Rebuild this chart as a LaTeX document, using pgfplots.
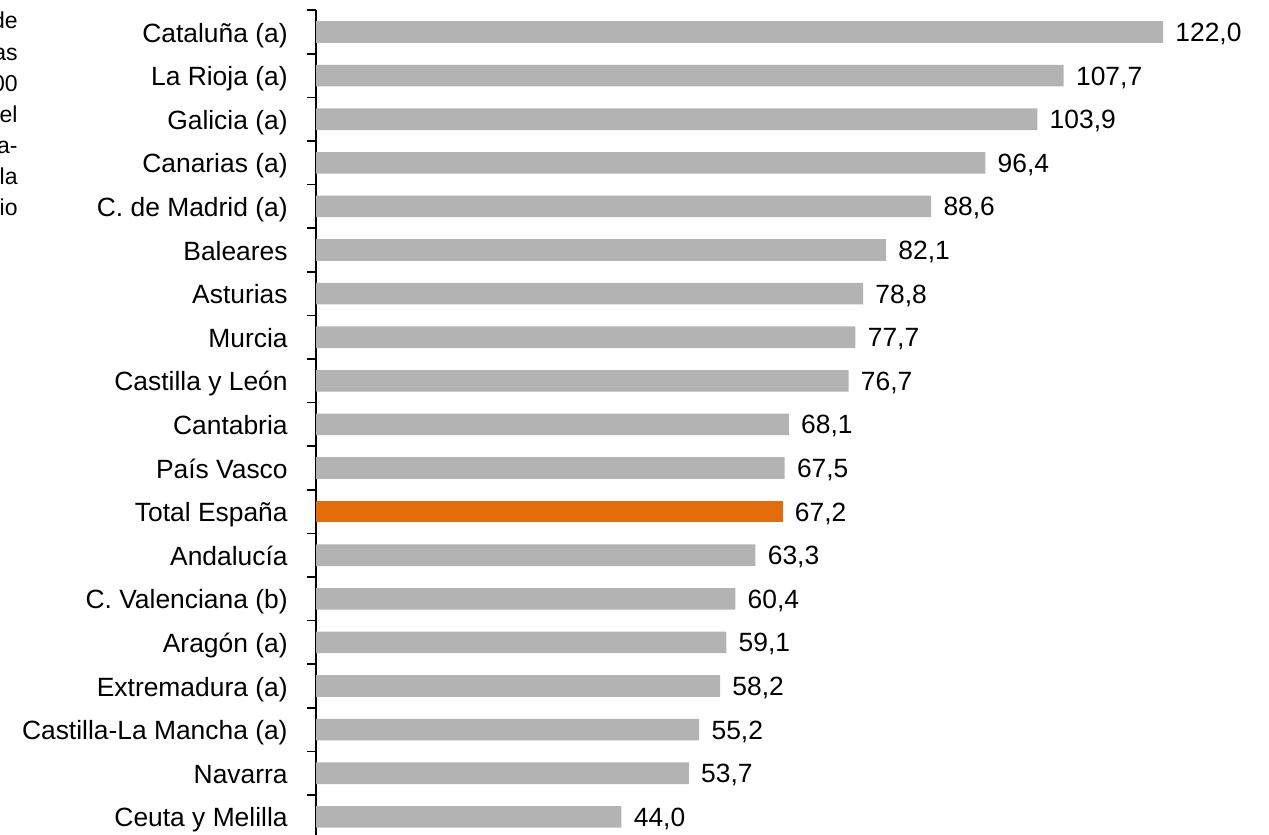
\documentclass[border=0pt]{standalone}
\usepackage{pgfplots}
\pgfplotsset{compat=1.18}
\usepackage{fontspec}
\setmainfont{Liberation Sans}
\definecolor{bargrey}{RGB}{179,179,179}
\definecolor{barorange}{RGB}{228,108,10}
\begin{document}
\begin{tikzpicture}[x=1pt,y=1pt]
\useasboundingbox (0,0) rectangle (634.5,417.5);
\clip (0,0) rectangle (634.5,417.5);
\begin{scope}[font=\fontsize{11.5}{13}\selectfont]
\node[anchor=base east,inner sep=0pt] at (9,403.0) {de};
\node[anchor=base east,inner sep=0pt] at (9,387.45) {as};
\node[anchor=base east,inner sep=0pt] at (9,371.9) {00};
\node[anchor=base east,inner sep=0pt] at (9,356.35) {el};
\node[anchor=base east,inner sep=0pt] at (9,340.8) {a-};
\node[anchor=base east,inner sep=0pt] at (9,325.25) {la};
\node[anchor=base east,inner sep=0pt] at (9,309.7) {io};
\end{scope}
\begin{axis}[
  at={(158pt,412.4pt)}, anchor=north west,
  scale only axis, width=451.27pt, height=414.2pt,
  xmin=0, xmax=130, ymin=-0.5, ymax=18.5, y dir=reverse,
  axis x line=none, axis y line*=left,
  axis line style={black, line width=0.75pt},
  every tick/.style={black, line width=0.75pt},
  ytick={0,...,18},
  yticklabels={Cataluña (a),La Rioja (a),Galicia (a),Canarias (a),C. de Madrid (a),Baleares,Asturias,Murcia,Castilla y León,Cantabria,País Vasco,Total España,Andalucía,C. Valenciana (b),Aragón (a),Extremadura (a),Castilla-La Mancha (a),Navarra,Ceuta y Melilla},
  major tick length=0pt,
  minor ytick={-0.5,0.5,...,18.5},
  minor tick length=4.5pt,
  tick align=outside,
  yticklabel style={font=\fontsize{13.2}{15}\selectfont, inner sep=0pt, text height=9.4pt, text depth=0pt, xshift=-14pt, yshift=-0.3pt},
  xbar, bar width=10.8pt, bar shift=0pt,
  clip=false,
  nodes near coords={\pgfmathprintnumber[fixed,fixed zerofill,precision=1,use comma,assume math mode=true]{\pgfplotspointmeta}},
  every node near coord/.append style={anchor=west, inner sep=0pt, text height=9.4pt, text depth=0pt, xshift=6pt, font=\fontsize{13.2}{15}\selectfont, text=black},
]
\addplot[fill=bargrey, draw=none] coordinates {
(122.0,0) (107.7,1) (103.9,2) (96.4,3) (88.6,4) (82.1,5) (78.8,6) (77.7,7) (76.7,8) (68.1,9) (67.5,10)
(63.3,12) (60.4,13) (59.1,14) (58.2,15) (55.2,16) (53.7,17) (44.0,18)};
\addplot[fill=barorange, draw=none] coordinates {(67.2,11)};
\end{axis}
\end{tikzpicture}
\end{document}
